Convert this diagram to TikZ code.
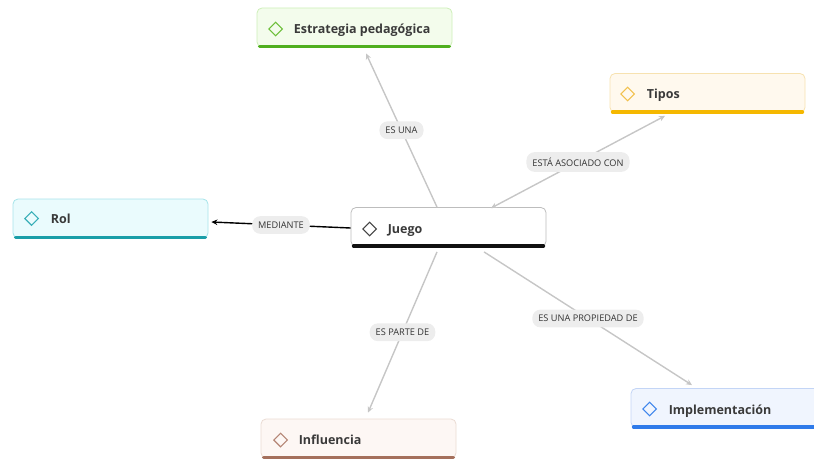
\documentclass[tikz,border=0pt]{standalone}
\usepackage{fontspec}
\setmainfont{Open Sans}
\usetikzlibrary{arrows.meta,shapes.geometric}
\definecolor{gfill}{HTML}{F3FCEC}\definecolor{gline}{HTML}{CDEFB8}\definecolor{gbar}{HTML}{4FAF1E}\definecolor{gdia}{HTML}{6DBF3A}
\definecolor{yfill}{HTML}{FFF9EE}\definecolor{yline}{HTML}{F7E2B0}\definecolor{ybar}{HTML}{F5B800}\definecolor{ydia}{HTML}{F2C14E}
\definecolor{tfill}{HTML}{EAFBFD}\definecolor{tline}{HTML}{A6E4EA}\definecolor{tbar}{HTML}{1A9EA8}\definecolor{tdia}{HTML}{3AAFB8}
\definecolor{wfill}{HTML}{FFFFFF}\definecolor{wline}{HTML}{BDBDBD}\definecolor{wbar}{HTML}{111111}\definecolor{wdia}{HTML}{444444}
\definecolor{bfill}{HTML}{FDF7F4}\definecolor{bline}{HTML}{EADBD3}\definecolor{bbar}{HTML}{A5705C}\definecolor{bdia}{HTML}{B58676}
\definecolor{ufill}{HTML}{F0F5FE}\definecolor{uline}{HTML}{C3D5F6}\definecolor{ubar}{HTML}{2F7BEA}\definecolor{udia}{HTML}{3F86EC}
\definecolor{txtc}{HTML}{3A3A3A}\definecolor{lblfill}{HTML}{EDEDED}\definecolor{conc}{HTML}{C6C6C6}
\tikzset{
  box/.style 2 args={draw=#2, fill=#1, rounded corners=5pt, minimum width=195pt, minimum height=39pt, line width=0.8pt, inner sep=0pt},
  barline/.style={line width=3.6pt, line cap=round, draw=#1},
  dia/.style={diamond, draw=#1, line width=1.2pt, minimum size=14pt, inner sep=0pt},
  txt/.style={anchor=base west, text=txtc, font=\fontsize{12.5}{14}\selectfont\bfseries, inner sep=0pt},
  elbl/.style={fill=lblfill, rounded corners=8pt, text=black!80, font=\fontsize{9.2}{10}\selectfont, inner xsep=6pt, inner ysep=5.5pt},
  conn/.style={draw=conc, line width=1.4pt, -{Stealth[length=6pt,width=5.5pt]}},
  conn2/.style={draw=conc, line width=1.4pt, {Stealth[length=6pt,width=5.5pt]}-{Stealth[length=6pt,width=5.5pt]}},
  connb/.style={draw=black, line width=1.4pt, -{Stealth[length=6pt,width=5.5pt]}}
}
\begin{document}
\begin{tikzpicture}[x=1pt,y=-1pt]
\useasboundingbox (0,0) rectangle (814,460);
% nodes
\node[box={gfill}{gline}] (est) at (354.5,27.5) {};
\node[box={yfill}{yline}] (tipos) at (707.5,93) {};
\node[box={tfill}{tline}] (rol) at (110.5,218.5) {};
\node[box={wfill}{wline}] (juego) at (448.5,227) {};
\node[box={bfill}{bline}] (infl) at (358.5,438.5) {};
\node[box={ufill}{uline}] (impl) at (728.5,408) {};
% bars
\draw[barline=gbar] ([xshift=3pt,yshift=1pt]est.south west) -- ([xshift=-3pt,yshift=1pt]est.south east);
\draw[barline=ybar] ([xshift=3pt,yshift=1pt]tipos.south west) -- ([xshift=-3pt,yshift=1pt]tipos.south east);
\draw[barline=tbar] ([xshift=3pt,yshift=1pt]rol.south west) -- ([xshift=-3pt,yshift=1pt]rol.south east);
\draw[barline=wbar] ([xshift=3pt,yshift=1pt]juego.south west) -- ([xshift=-3pt,yshift=1pt]juego.south east);
\draw[barline=bbar] ([xshift=3pt,yshift=1pt]infl.south west) -- ([xshift=-3pt,yshift=1pt]infl.south east);
\draw[barline=ubar] ([xshift=3pt,yshift=1pt]impl.south west) -- ([xshift=-3pt,yshift=1pt]impl.south east);
% diamonds
\node[dia=gdia] (estd) at ([xshift=19pt,yshift=-1.5pt]est.west) {};
\node[dia=ydia] (tiposd) at ([xshift=18pt,yshift=-1pt]tipos.west) {};
\node[dia=tdia] (rold) at ([xshift=19pt,yshift=0pt]rol.west) {};
\node[dia=wdia] (juegod) at ([xshift=19pt,yshift=-2pt]juego.west) {};
\node[dia=bdia] (infld) at ([xshift=20pt,yshift=-1.5pt]infl.west) {};
\node[dia=udia] (impld) at ([xshift=19pt,yshift=-1pt]impl.west) {};
% texts
\node[txt] (estt) at ([xshift=37pt,yshift=-6pt]est.west) {Estrategia pedagógica};
\node[txt] (tipost) at ([xshift=37pt,yshift=-6pt]tipos.west) {Tipos};
\node[txt] (rolt) at ([xshift=38pt,yshift=-5pt]rol.west) {Rol};
\node[txt] (juegot) at ([xshift=37pt,yshift=-6.5pt]juego.west) {Juego};
\node[txt] (inflt) at ([xshift=38pt,yshift=-6pt]infl.west) {Influencia};
\node[txt] (implt) at ([xshift=38pt,yshift=-6pt]impl.west) {Implementación};
% connectors
\draw[conn] ([xshift=-11.5pt]juego.north) -- node[elbl]{ES UNA} ([xshift=11.5pt,yshift=-6pt]est.south);
\draw[conn2] ([xshift=42.5pt,yshift=-1pt]juego.north) -- node[elbl]{ESTÁ ASOCIADO CON} ([xshift=-42.5pt,yshift=-3pt]tipos.south);
\draw[connb] ([yshift=-1pt]juego.west) -- node[elbl]{MEDIANTE} ([xshift=3pt,yshift=-3.5pt]rol.east);
\draw[conn] ([xshift=-11.5pt,yshift=-5pt]juego.south) -- node[elbl]{ES PARTE DE} ([xshift=9.5pt,yshift=6pt]infl.north);
\draw[conn] ([xshift=35.5pt,yshift=-5pt]juego.south) -- node[elbl]{ES UNA PROPIEDAD DE} ([xshift=-36.5pt,yshift=3pt]impl.north);
\end{tikzpicture}
\end{document}
